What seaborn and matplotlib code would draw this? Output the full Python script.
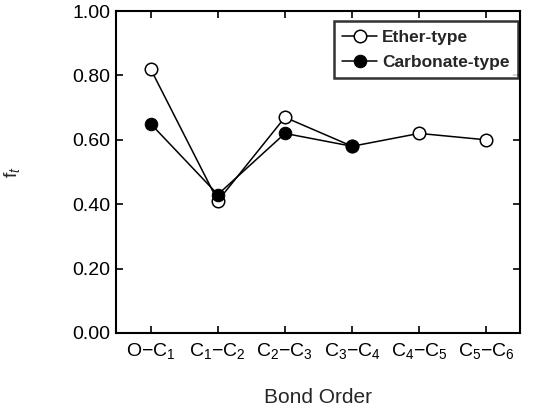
import matplotlib
matplotlib.use("Agg")
import matplotlib.pyplot as plt
import seaborn as sns
import pandas as pd

bonds = [r"O$-$C$_1$", r"C$_1$$-$C$_2$", r"C$_2$$-$C$_3$", r"C$_3$$-$C$_4$",
         r"C$_4$$-$C$_5$", r"C$_5$$-$C$_6$"]
ether = [0.82, 0.41, 0.67, 0.58, 0.62, 0.60]
carbonate = [0.65, 0.43, 0.62, 0.58]
yticks = [0.0, 0.2, 0.4, 0.6, 0.8, 1.0]

sns.set_style("ticks")
plt.rcParams['font.family'] = ['Liberation Sans', 'DejaVu Sans']
plt.rcParams['mathtext.fontset'] = 'custom'
plt.rcParams['mathtext.rm'] = 'Liberation Sans'
plt.rcParams['mathtext.it'] = 'Liberation Sans:italic'

fig = plt.figure(figsize=(5.36, 4.13), dpi=100)
ax = fig.add_axes([0.216, 0.194, 0.754, 0.779])

df_e = pd.DataFrame({"bond": bonds, "ft": ether})
df_c = pd.DataFrame({"bond": bonds[:len(carbonate)], "ft": carbonate})

sns.lineplot(data=df_e, x="bond", y="ft", ax=ax, color="black", lw=1.1,
             marker="o", markersize=9, markerfacecolor="white",
             markeredgecolor="black", markeredgewidth=1.1, sort=False,
             label="Ether-type")
sns.lineplot(data=df_c, x="bond", y="ft", ax=ax, color="black", lw=1.1,
             marker="o", markersize=9, markerfacecolor="black",
             markeredgecolor="black", sort=False, label="Carbonate-type")

ax.set_xticks(range(len(bonds)))
ax.set_xticklabels(bonds, fontsize=14)
ax.set_xlim(-0.52, 5.5)
ax.set_ylim(0, 1.0)
ax.set_yticks(yticks)
ax.set_yticklabels([f"{v:.2f}" for v in yticks], fontsize=14)
ax.tick_params(direction="in", top=True, right=True, length=5, width=1.2,
               labelcolor="black", color="black")
ax.tick_params(axis="y", pad=4)
ax.tick_params(axis="x", pad=6)
for s in ax.spines.values():
    s.set_linewidth(1.5)
    s.set_color("black")

ax.set_xlabel("Bond Order", fontsize=15, labelpad=19)
ax.set_ylabel(r"f$_t$", fontsize=14, labelpad=36)

leg = ax.legend(loc="upper right", bbox_to_anchor=(1.005, 0.98), frameon=True,
                fancybox=False, shadow=False, prop={"weight": "bold", "size": 12.5},
                handlelength=2.0, borderpad=0.5, labelspacing=0.55, handletextpad=0.3,
                borderaxespad=0.2)
leg.get_frame().set_edgecolor("black")
leg.get_frame().set_linewidth(1.8)

fig.savefig("out.png", dpi=100)
